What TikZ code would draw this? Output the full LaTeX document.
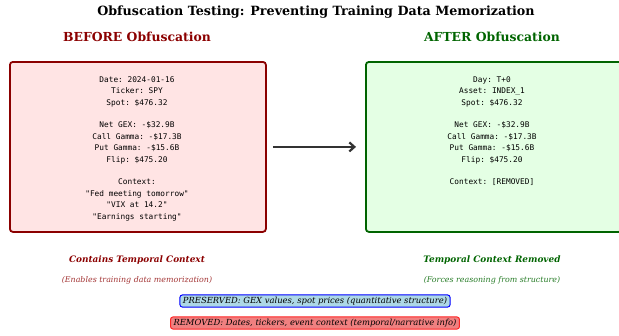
\documentclass[tikz,border=0pt]{standalone}
\usepackage{fontspec}
\setmainfont{DejaVu Serif}
\setmonofont{DejaVu Sans Mono}
\usetikzlibrary{arrows.meta}

\definecolor{beforered}{HTML}{8B0000}
\definecolor{beforefill}{HTML}{FFE4E4}
\definecolor{afterfill}{HTML}{E4FFE4}
\definecolor{aftergreen}{HTML}{006400}
\definecolor{arrowgray}{HTML}{333333}
\definecolor{keepblue}{HTML}{ADD8E6}
\definecolor{dropred}{HTML}{F08080}

\begin{document}
\begin{tikzpicture}
      [x=1pt, y=-1pt,
       panel/.style={
           rectangle,
           rounded corners=3pt,
           line width=1.8pt,
           minimum width=256pt,
           minimum height=170pt,
           anchor=north west
         },
       datatext/.style={
           font=\ttfamily\fontsize{7.8}{11.4}\selectfont,
           align=center,
           anchor=north
         },
       heading/.style={
           font=\bfseries\fontsize{12.4}{14}\selectfont
         },
       tag/.style={
           font=\bfseries\itshape\fontsize{8.9}{10}\selectfont
         },
       note/.style={
           font=\itshape\fontsize{7.9}{9}\selectfont
         },
       legend/.style={
           rectangle,
           rounded corners=2.5pt,
           line width=1pt,
           inner xsep=3pt,
           inner ysep=2pt,
           font=\itshape\fontsize{8.4}{9}\selectfont
         },
       ]
    \useasboundingbox (0,0) rectangle (619,335);

    \node [font=\bfseries\fontsize{12.7}{14}\selectfont] (title) at (316,12)
      {Obfuscation Testing: Preventing Training Data Memorization};

    \node [heading, text=beforered] (beforehead) at (137,37) {BEFORE Obfuscation};
    \node [heading, text=aftergreen] (afterhead) at (492,37) {AFTER Obfuscation};

    \node [panel, draw=beforered, fill=beforefill] (before) at (9,61) {};
    \node [panel, draw=aftergreen, fill=afterfill] (after) at (365,61) {};

    \node [datatext] (beforedata) at (137,73) {
      Date: 2024-01-16\\
      Ticker: SPY\\
      Spot: \$476.32\\[11.4pt]
      Net GEX: -\$32.9B\\
      Call Gamma: -\$17.3B\\
      Put Gamma: -\$15.6B\\
      Flip: \$475.20\\[11.4pt]
      Context:\\
      "Fed meeting tomorrow"\\
      "VIX at 14.2"\\
      "Earnings starting"
    };

    \node [datatext] (afterdata) at (492,73) {
      Day: T+0\\
      Asset: INDEX\_1\\
      Spot: \$476.32\\[11.4pt]
      Net GEX: -\$32.9B\\
      Call Gamma: -\$17.3B\\
      Put Gamma: -\$15.6B\\
      Flip: \$475.20\\[11.4pt]
      Context: [REMOVED]
    };

    \path (before.east) ++(6,0) coordinate (arrowfrom);
    \path (after.west) ++(-9,0) coordinate (arrowto);
    \draw [draw=arrowgray, line width=2.2pt, -{Straight Barb[length=5pt,width=9pt]}] (arrowfrom) -- (arrowto);

    \node [tag, text=beforered] (beforetag) at (137,260) {Contains Temporal Context};
    \node [note, text=beforered!80!white] (beforenote) at (137,280) {(Enables training data memorization)};
    \node [tag, text=aftergreen] (aftertag) at (492,260) {Temporal Context Removed};
    \node [note, text=aftergreen!85!white] (afternote) at (492,280) {(Forces reasoning from structure)};

    \node [legend, draw=blue, fill=keepblue] (kept) at (315,301)
      {PRESERVED: GEX values, spot prices (quantitative structure)};
    \node [legend, draw=red!85!white, fill=dropred] (dropped) at (315,323)
      {REMOVED: Dates, tickers, event context (temporal/narrative info)};

  \end{tikzpicture}
\end{document}
